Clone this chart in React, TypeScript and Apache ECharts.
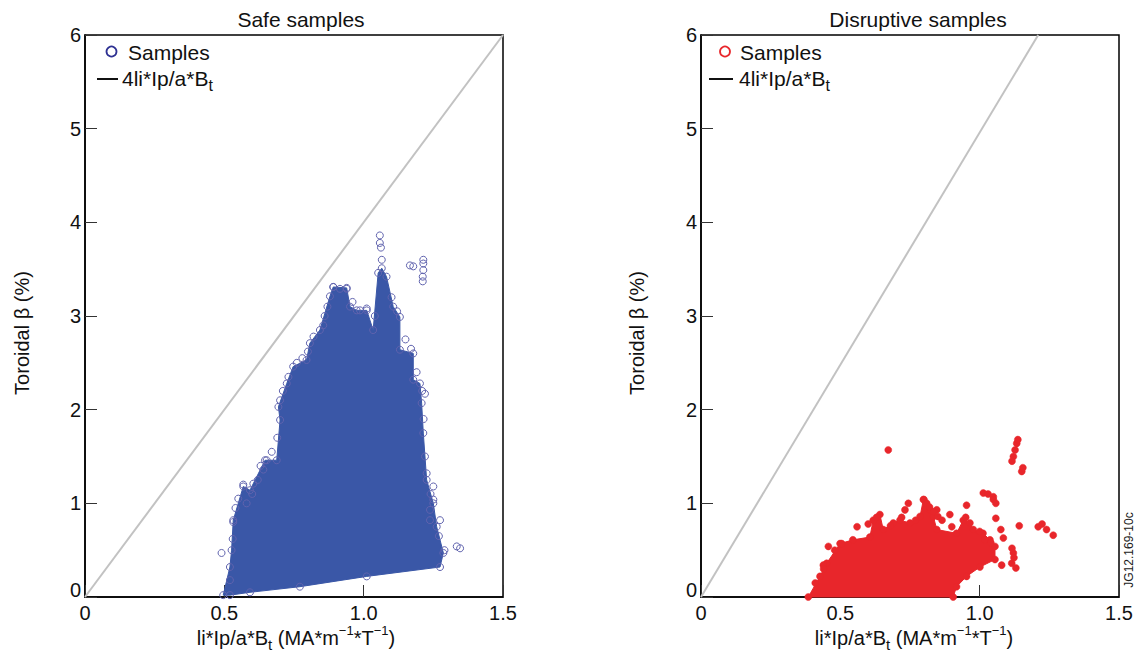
import React, { useEffect, useRef } from "react";
import * as echarts from "echarts";

const FONT = "'Liberation Sans', Arial, Helvetica, sans-serif";

const PANEL_TITLES = ["Safe samples", "Disruptive samples"];
const X_TICKS = [0, 0.5, 1.0, 1.5];
const Y_TICKS = [0, 1, 2, 3, 4, 5, 6];

// reference lines 4li*Ip/a*Bt as drawn in each panel
const SAFE_LINE = [[0, 0], [1.5, 6]];
const DISRUPT_LINE = [[0, 0], [1.21, 6]];

// outline of the dense cloud of safe samples
const SAFE_ENVELOPE = [
  [0.496, 0.02], [0.52, 0.32], [0.526, 0.5], [0.532, 0.82], [0.568, 1.18], [0.592, 1.14],
  [0.646, 1.46], [0.688, 1.46], [0.7, 1.89], [0.694, 2.03], [0.724, 2.28], [0.747, 2.46],
  [0.795, 2.53], [0.807, 2.71], [0.843, 2.85], [0.879, 3.21], [0.891, 3.31], [0.939, 3.3],
  [0.951, 3.1], [0.975, 3.06], [1.011, 3.06], [1.034, 2.85], [1.052, 3.46], [1.065, 3.51],
  [1.082, 3.42], [1.106, 3.1], [1.13, 2.99], [1.13, 2.64], [1.178, 2.6], [1.178, 2.32],
  [1.202, 2.28], [1.208, 2.07], [1.214, 1.75], [1.226, 1.25], [1.25, 1.0], [1.262, 0.75],
  [1.286, 0.47], [1.274, 0.32], [1.011, 0.22], [0.771, 0.11], [0.592, 0.05], [0.52, 0.02],
];

// isolated safe samples around and along the edge of the cloud
const SAFE_OUTLIERS = [
  [1.058, 3.86], [1.058, 3.78], [1.062, 3.73], [1.065, 3.6], [1.166, 3.54], [1.178, 3.53],
  [1.214, 3.6], [1.214, 3.56], [1.214, 3.49], [1.212, 3.42], [1.212, 3.37], [1.334, 0.54],
  [1.346, 0.52], [0.652, 1.46], [0.64, 1.36], [0.568, 1.2], [0.604, 1.21], [0.532, 0.8],
  [0.855, 2.9], [0.987, 3.06], [1.011, 3.08], [1.22, 2.17], [1.25, 1.04], [1.238, 0.82],
  [1.226, 1.32], [0.891, 3.31], [0.915, 3.29], [0.939, 3.29], [1.25, 1.18], [1.238, 0.93],
  [1.274, 0.82], [0.49, 0.47], [0.52, 0.18],
  [0.53, 0.62], [0.54, 0.95], [0.55, 1.05], [0.58, 1.0], [0.6, 1.1], [0.62, 1.25],
  [0.63, 1.4], [0.67, 1.55], [0.69, 1.7], [0.7, 2.1], [0.71, 2.2], [0.73, 2.35],
  [0.76, 2.5], [0.78, 2.55], [0.8, 2.62], [0.82, 2.78], [0.86, 3.0], [0.87, 3.1],
  [0.96, 3.15], [1.04, 3.0], [1.1, 3.2], [1.12, 3.05], [1.15, 2.75], [1.17, 2.65],
  [1.19, 2.4], [1.21, 2.2], [1.215, 1.9], [1.22, 1.5], [1.24, 1.1], [1.27, 0.65],
  [1.29, 0.5],
];

// outline of the dense cloud of disruptive samples
const DISRUPT_ENVELOPE = [
  [0.385, 0.0], [0.427, 0.22], [0.451, 0.36], [0.499, 0.57], [0.545, 0.61], [0.606, 0.64],
  [0.618, 0.82], [0.642, 0.88], [0.654, 0.72], [0.69, 0.79], [0.714, 0.82], [0.75, 0.79],
  [0.786, 0.86], [0.798, 1.04], [0.822, 0.93], [0.834, 0.86], [0.846, 0.72], [0.917, 0.68],
  [0.941, 0.82], [0.965, 0.79], [0.977, 0.72], [1.012, 0.68], [1.037, 0.61], [1.055, 0.54],
  [1.055, 0.4], [1.001, 0.32], [0.953, 0.22], [0.917, 0.11], [0.905, 0.0],
];

// isolated disruptive samples
const DISRUPT_POINTS = [
  [0.672, 1.57], [1.133, 1.64], [1.137, 1.68], [1.127, 1.57], [1.121, 1.5], [1.116, 1.45],
  [1.151, 1.34], [1.155, 1.38], [1.013, 1.11], [1.03, 1.1], [1.049, 1.07], [1.049, 1.04],
  [1.058, 1.0], [1.21, 0.75], [1.224, 0.78], [1.24, 0.72], [1.264, 0.66], [1.121, 0.47],
  [1.115, 0.36], [1.116, 0.52], [1.123, 0.42], [1.13, 0.31], [1.085, 0.63], [1.076, 0.72],
  [1.142, 0.76], [1.079, 0.34], [0.744, 1.0], [0.732, 0.93], [0.846, 0.93], [0.893, 0.88],
  [0.953, 0.98], [0.457, 0.54], [0.505, 0.57], [0.439, 0.34], [0.8, 1.04], [0.81, 1.0],
  [0.82, 0.96], [0.835, 0.91], [0.85, 0.86], [0.865, 0.82], [1.058, 0.84], [1.019, 0.61],
  [0.56, 0.75], [0.6, 0.78], [0.63, 0.85], [0.68, 0.76], [0.72, 0.85], [0.77, 0.82],
  [0.9, 0.75], [0.95, 0.85], [1.0, 0.7], [1.04, 0.58], [0.48, 0.5], [0.44, 0.3], [0.41, 0.15],
];

const BLUE = "#3a57a7";
const BLUE_EDGE = "#6063ae";
const RED = "#e8262b";
const LEGEND_BLUE = "#2e3192";

const GRIDS = [
  { left: 85, top: 35, width: 418, height: 562 },
  { left: 701, top: 35, width: 418, height: 562 },
];

const RICH = {
  sub: { fontSize: 15, lineHeight: 15, verticalAlign: "bottom", fontFamily: FONT, fill: "#111" },
  sup: { fontSize: 13, lineHeight: 13, verticalAlign: "top", fontFamily: FONT, fill: "#111" },
};

function App() {
  const ref = useRef<HTMLDivElement>(null);

  useEffect(() => {
    if (!ref.current) return;
    const chart = echarts.init(ref.current, null, { renderer: "svg" });

    const xAxis = GRIDS.map((_, i) => ({
      gridIndex: i,
      type: "value",
      min: X_TICKS[0],
      max: X_TICKS[X_TICKS.length - 1],
      interval: 0.5,
      axisLine: { show: true, onZero: false, lineStyle: { color: "#000", width: 1.5 } },
      axisTick: { show: true, inside: true, length: 12, lineStyle: { color: "#333", width: 1 } },
      axisLabel: {
        margin: 6,
        fontSize: 20,
        color: "#111",
        fontFamily: FONT,
        formatter: (v: number) => (v === 0 ? "0" : v.toFixed(1)),
      },
      splitLine: { show: false },
    }));

    const yAxis = GRIDS.map((_, i) => ({
      gridIndex: i,
      type: "value",
      min: Y_TICKS[0],
      max: Y_TICKS[Y_TICKS.length - 1],
      interval: 1,
      axisLine: { show: true, onZero: false, lineStyle: { color: "#000", width: 1.5 } },
      axisTick: { show: true, inside: true, length: 12, lineStyle: { color: "#333", width: 1 } },
      axisLabel: {
        margin: 4,
        fontSize: 20,
        color: "#111",
        fontFamily: FONT,
        formatter: (v: number) => (v === 0 ? "{z|0}" : String(v)),
        rich: { z: { fontSize: 20, fontFamily: FONT, color: "#111", padding: [0, 0, 14, 0] } },
      },
      splitLine: { show: false },
    }));

    const polygonSeries = (env: number[][], idx: number, color: string) => ({
      type: "custom",
      xAxisIndex: idx,
      yAxisIndex: idx,
      data: [env[0]],
      encode: { x: 0, y: 1 },
      z: 3,
      renderItem: (params: any, api: any) => {
        if (params.dataIndex !== 0) return null;
        return {
          type: "polygon",
          shape: { points: env.map((p) => api.coord(p)) },
          style: { fill: color, stroke: color, lineWidth: 1 },
        };
      },
    });

    const option = {
      animation: false,
      backgroundColor: "#fff",
      grid: GRIDS.map((g) => ({ ...g, show: true, borderColor: "#000", borderWidth: 1.5, backgroundColor: "transparent" })),
      xAxis,
      yAxis,
      series: [
        {
          type: "line",
          xAxisIndex: 0,
          yAxisIndex: 0,
          data: SAFE_LINE,
          symbol: "none",
          lineStyle: { color: "#c2c2c2", width: 2 },
          z: 2,
        },
        polygonSeries(SAFE_ENVELOPE, 0, BLUE),
        {
          type: "scatter",
          xAxisIndex: 0,
          yAxisIndex: 0,
          data: [...SAFE_ENVELOPE, ...SAFE_OUTLIERS],
          symbol: "circle",
          symbolSize: 7,
          itemStyle: { color: "rgba(255,255,255,0)", borderColor: BLUE_EDGE, borderWidth: 1, opacity: 1 },
          z: 4,
        },
        {
          type: "line",
          xAxisIndex: 1,
          yAxisIndex: 1,
          data: DISRUPT_LINE,
          symbol: "none",
          lineStyle: { color: "#c2c2c2", width: 2 },
          z: 2,
        },
        polygonSeries(DISRUPT_ENVELOPE, 1, RED),
        {
          type: "scatter",
          xAxisIndex: 1,
          yAxisIndex: 1,
          data: [...DISRUPT_ENVELOPE, ...DISRUPT_POINTS],
          symbol: "circle",
          symbolSize: 7,
          itemStyle: { color: RED, borderColor: RED, borderWidth: 0.5, opacity: 1 },
          z: 4,
        },
      ],
      graphic: [
        // titles
        { type: "text", x: 301, y: 19, style: { text: PANEL_TITLES[0], font: `21px ${FONT}`, fill: "#111", align: "center", verticalAlign: "middle" } },
        { type: "text", x: 918, y: 19, style: { text: PANEL_TITLES[1], font: `21px ${FONT}`, fill: "#111", align: "center", verticalAlign: "middle" } },
        // y axis names
        { type: "text", x: 22, y: 333, rotation: Math.PI / 2, style: { text: "Toroidal β (%)", font: `20px ${FONT}`, fill: "#111", align: "center", verticalAlign: "middle" } },
        { type: "text", x: 637, y: 333, rotation: Math.PI / 2, style: { text: "Toroidal β (%)", font: `20px ${FONT}`, fill: "#111", align: "center", verticalAlign: "middle" } },
        // x axis names
        { type: "text", x: 296, y: 638, style: { text: "li*Ip/a*B{sub|t} (MA*m{sup|−1}*T{sup|−1})", fontSize: 20, fontFamily: FONT, lineHeight: 28, fill: "#111", align: "center", verticalAlign: "middle", rich: RICH } },
        { type: "text", x: 914, y: 638, style: { text: "li*Ip/a*B{sub|t} (MA*m{sup|−1}*T{sup|−1})", fontSize: 20, fontFamily: FONT, lineHeight: 28, fill: "#111", align: "center", verticalAlign: "middle", rich: RICH } },
        // legends
        { type: "circle", shape: { cx: 111.5, cy: 51.5, r: 5 }, style: { fill: "none", stroke: LEGEND_BLUE, lineWidth: 1.8 } },
        { type: "text", x: 128, y: 52, style: { text: "Samples", font: `21px ${FONT}`, fill: "#111", align: "left", verticalAlign: "middle" } },
        { type: "line", shape: { x1: 97, y1: 79, x2: 118, y2: 79 }, style: { stroke: "#111", lineWidth: 2 } },
        { type: "text", x: 122, y: 78, style: { text: "4li*Ip/a*B{sub|t}", fontSize: 21, fontFamily: FONT, lineHeight: 30, fill: "#111", align: "left", verticalAlign: "middle", rich: { sub: { ...RICH.sub, fontSize: 16, lineHeight: 16 } } } },
        { type: "circle", shape: { cx: 725, cy: 51.5, r: 5 }, style: { fill: "none", stroke: RED, lineWidth: 1.8 } },
        { type: "text", x: 740, y: 52, style: { text: "Samples", font: `21px ${FONT}`, fill: "#111", align: "left", verticalAlign: "middle" } },
        { type: "line", shape: { x1: 709, y1: 79, x2: 733, y2: 79 }, style: { stroke: "#111", lineWidth: 2 } },
        { type: "text", x: 739, y: 78, style: { text: "4li*Ip/a*B{sub|t}", fontSize: 21, fontFamily: FONT, lineHeight: 30, fill: "#111", align: "left", verticalAlign: "middle", rich: { sub: { ...RICH.sub, fontSize: 16, lineHeight: 16 } } } },
        // figure id
        { type: "text", x: 1129, y: 550, rotation: Math.PI / 2, style: { text: "JG12.169-10c", font: `12px ${FONT}`, fill: "#222", align: "center", verticalAlign: "middle" } },
      ],
    };

    chart.setOption(option as any);
    return () => chart.dispose();
  }, []);

  return (
    <div
      ref={ref}
      style={{ position: "fixed", left: 0, top: 0, width: 1140, height: 664, background: "#fff" }}
    />
  );
}

export default App;
